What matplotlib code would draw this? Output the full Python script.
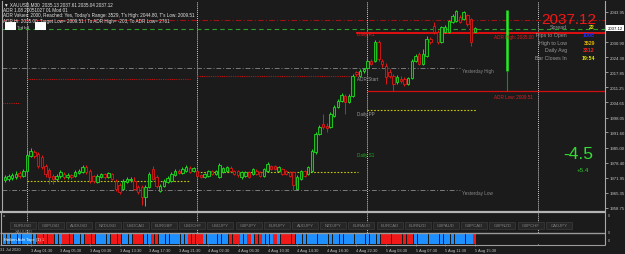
import matplotlib
matplotlib.use("Agg")
import matplotlib.pyplot as plt
from matplotlib.patches import Rectangle

plt.rcParams['font.family'] = ['Liberation Sans', 'DejaVu Sans']

# XAUUSD M30: bar 0 = late 31 Jul 2020, bar 127 = 5 Aug 15:30 (current)
opens = [1970.9, 1971.3, 1971.8, 1972.2, 1974.0, 1972.6, 1974.8, 1981.3,
         1983.1, 1982.2, 1980.9, 1977.0, 1975.3, 1972.6, 1971.3, 1972.6,
         1973.5, 1972.2, 1973.1, 1972.6, 1974.0, 1974.4, 1976.6, 1974.8,
         1972.6, 1970.0, 1972.2, 1973.5, 1972.2, 1973.5, 1970.5, 1968.7,
         1967.0, 1970.0, 1970.9, 1970.5, 1967.9, 1967.9, 1963.5, 1967.9,
         1975.7, 1972.2, 1966.1, 1968.3, 1970.0, 1970.5, 1973.1, 1974.8,
         1974.0, 1974.8, 1976.1, 1974.8, 1974.8, 1973.1, 1972.2, 1972.6,
         1974.8, 1973.5, 1972.2, 1974.4, 1974.8, 1976.1, 1974.8, 1974.8,
         1972.2, 1972.6, 1974.4, 1973.5, 1974.8, 1974.4, 1972.6, 1974.8,
         1977.0, 1977.0, 1974.8, 1975.7, 1974.8, 1974.4, 1974.4, 1967.0,
         1971.3, 1974.8, 1973.5, 1974.8, 1983.1, 1990.9, 1995.2, 1994.4,
         1993.9, 1998.7, 2002.6, 2005.2, 2007.4, 2004.8, 2007.4, 2017.9,
         2016.1, 2018.3, 2019.6, 2022.6, 2022.6, 2030.9, 2022.6, 2020.5,
         2017.9, 2016.1, 2013.5, 2014.8, 2014.8, 2012.6, 2015.2, 2022.6,
         2025.7, 2021.3, 2024.8, 2032.2, 2037.9, 2035.3, 2030.9, 2035.3,
         2035.3, 2039.6, 2040.0, 2041.8, 2040.9, 2042.6, 2040.9, 2035.13]
highs = [1973.1, 1973.5, 1974.0, 1974.8, 1974.8, 1975.7, 1984.4, 1984.8,
         1983.9, 1983.1, 1981.8, 1977.8, 1976.1, 1973.5, 1973.5, 1975.3,
         1974.4, 1974.0, 1973.5, 1975.3, 1975.7, 1977.4, 1977.4, 1975.7,
         1973.1, 1973.5, 1974.0, 1974.0, 1974.4, 1974.0, 1971.3, 1969.6,
         1971.3, 1972.2, 1972.2, 1972.2, 1968.7, 1968.7, 1968.7, 1974.4,
         1977.0, 1973.1, 1969.1, 1971.3, 1972.6, 1974.4, 1975.7, 1975.7,
         1976.6, 1977.4, 1977.0, 1976.6, 1975.3, 1973.5, 1974.0, 1975.3,
         1975.3, 1975.3, 1978.3, 1976.6, 1977.0, 1977.0, 1975.3, 1975.3,
         1974.8, 1974.8, 1974.8, 1976.1, 1975.7, 1974.8, 1976.1, 1978.7,
         1977.4, 1977.4, 1977.0, 1976.1, 1975.3, 1974.8, 1974.8, 1973.1,
         1975.3, 1975.3, 1977.0, 1984.4, 1991.8, 1994.8, 1999.6, 1995.7,
         2000.5, 2003.5, 2006.1, 2008.7, 2008.3, 2008.3, 2017.0, 2018.3,
         2019.2, 2019.6, 2023.9, 2023.5, 2031.8, 2031.8, 2023.5, 2021.8,
         2019.2, 2017.0, 2016.6, 2016.1, 2015.7, 2015.7, 2023.5, 2025.7,
         2026.6, 2027.9, 2033.5, 2033.1, 2039.6, 2036.1, 2037.9, 2038.3,
         2040.5, 2043.1, 2044.8, 2042.6, 2044.4, 2043.1, 2041.3, 2037.61]
lows = [1970.0, 1970.5, 1970.9, 1971.3, 1971.8, 1972.2, 1974.4, 1980.9,
        1980.5, 1976.1, 1975.7, 1972.2, 1969.1, 1969.1, 1970.5, 1971.8,
        1971.3, 1971.3, 1971.3, 1972.2, 1973.5, 1974.0, 1973.5, 1969.6,
        1969.6, 1969.6, 1971.8, 1971.3, 1971.8, 1970.9, 1966.1, 1964.8,
        1966.6, 1969.6, 1970.0, 1966.6, 1964.8, 1960.0, 1959.6, 1967.4,
        1970.9, 1967.4, 1965.7, 1967.9, 1969.6, 1970.0, 1972.6, 1973.5,
        1973.5, 1974.4, 1974.0, 1974.4, 1972.2, 1971.8, 1971.8, 1972.2,
        1973.1, 1973.1, 1971.8, 1974.0, 1974.4, 1974.4, 1973.1, 1972.2,
        1971.3, 1972.2, 1971.8, 1973.1, 1973.1, 1972.2, 1972.2, 1974.4,
        1975.3, 1975.3, 1974.4, 1973.1, 1973.1, 1972.2, 1966.6, 1966.6,
        1970.9, 1972.2, 1973.1, 1974.4, 1982.2, 1990.5, 1993.1, 1991.8,
        1993.5, 1998.3, 2002.2, 2004.8, 1999.6, 2004.4, 2007.0, 2016.1,
        2015.7, 2017.4, 2019.2, 2020.9, 2022.2, 2022.6, 2020.0, 2012.6,
        2015.2, 2009.51, 2012.6, 2013.1, 2011.8, 2012.2, 2014.8, 2022.2,
        2020.9, 2020.9, 2024.4, 2030.0, 2034.4, 2030.0, 2030.5, 2034.8,
        2034.8, 2039.2, 2039.6, 2039.2, 2040.5, 2037.9, 2029.2, 2035.04]
closes = [1972.2, 1972.6, 1973.1, 1973.5, 1972.6, 1974.8, 1981.8, 1983.5,
          1981.3, 1977.0, 1976.6, 1973.5, 1972.2, 1971.3, 1972.6, 1974.4,
          1972.2, 1973.1, 1972.2, 1974.4, 1974.8, 1976.6, 1974.4, 1970.5,
          1970.5, 1972.6, 1973.5, 1972.2, 1974.0, 1971.3, 1967.0, 1965.7,
          1970.5, 1971.3, 1971.3, 1967.0, 1965.7, 1963.5, 1967.9, 1973.5,
          1971.3, 1968.3, 1968.3, 1970.5, 1971.8, 1973.5, 1974.8, 1974.0,
          1975.7, 1976.6, 1974.4, 1976.1, 1972.6, 1972.2, 1973.5, 1974.8,
          1973.5, 1974.8, 1977.4, 1976.1, 1976.6, 1974.8, 1973.5, 1973.1,
          1974.4, 1974.4, 1972.2, 1975.7, 1973.5, 1972.6, 1975.7, 1977.8,
          1975.7, 1975.7, 1976.6, 1973.5, 1973.5, 1972.6, 1968.7, 1972.2,
          1974.8, 1972.6, 1976.6, 1983.5, 1990.9, 1993.9, 1993.9, 1993.5,
          1999.6, 2002.6, 2005.2, 2007.9, 2004.8, 2007.4, 2016.1, 2017.0,
          2018.3, 2019.2, 2022.6, 2021.3, 2030.9, 2023.5, 2021.3, 2015.7,
          2016.1, 2012.6, 2015.7, 2013.9, 2012.6, 2015.2, 2022.6, 2024.8,
          2021.3, 2025.7, 2032.2, 2030.9, 2035.3, 2030.9, 2037.4, 2037.4,
          2040.0, 2042.2, 2044.4, 2039.6, 2043.9, 2038.7, 2030.9, 2037.12]

# Heiken Ashi tape, one colour per bar (B blue, R red)
ha_tape = ("BBBBBBBBB" "RRRRR" "BB" "RRR" "BBB" "RRR" "BBBB" "RRR" "BBB" "RRR"
           "BB" "RR" "BBBBBBBB" "RRRR" "BBBBBBB" "RRR" "BB" "R" "B" "RR" "BBB"
           "R" "B" "RRRR" "BBBBBB" "BBBBBBBBBBBBBBBBB" "RRRRRRRRR"
           "BBBBBBBBBBBBBBBB" "R")

day_starts = [6, 52, 98, 144]
time_ticks = [7, 15, 23, 31, 39, 47, 55, 63, 71, 79, 87, 95, 103, 111, 119, 127]
time_labels = ["3 Aug 01:30", "3 Aug 05:30", "3 Aug 09:30", "3 Aug 13:30",
               "3 Aug 17:30", "3 Aug 21:30", "4 Aug 02:30", "4 Aug 06:30",
               "4 Aug 10:30", "4 Aug 14:30", "4 Aug 18:30", "4 Aug 22:30",
               "5 Aug 03:30", "5 Aug 07:30", "5 Aug 11:30", "5 Aug 15:30"]
price_ticks = [2043.95, 2030.90, 2024.30, 2017.85, 2011.25, 2004.65, 1998.05,
               1991.60, 1985.00, 1978.40, 1971.95, 1965.35, 1958.75]
last_price = 2037.12

# indicator levels
pivot_pp = [1970.5, 1974.4, 2001.3]        # 3 Aug, 4 Aug, 5 Aug
pivot_spans = [(6, 50), (52, 95.5), (98, 127.6)]
adr_start = [2004.4, 2014.8, 2016.1]       # 31 Jul, 3 Aug, 4 Aug
adr_start_spans = [(-0.76, 4.2), (6, 50), (52, 95.5)]
yest_high, yest_low = 2019.6, 1966.6
adr_high, adr_low = 2035.00, 2009.51
today_high, range_mid = 2044.80, 2018.3
upper_dashdot, green_dash = 2040.5, 2036.6
adr_bar_x = 135.7

symbols = ["EURUSD", "GBPUSD", "AUDUSD", "NZDUSD", "USDCAD", "EURGBP", "USDCHF",
           "USDJPY", "GBPJPY", "EURJPY", "AUDJPY", "NZDJPY", "EURAUD", "EURCAD",
           "EURNZD", "GBPAUD", "GBPCAD", "GBPNZD", "GBPCHF", "CADJPY"]

BG = "#1b1b1b"
W, H = 625, 255


def box(x0, y0, x1, y1):
    return [x0 / W, 1 - y1 / H, (x1 - x0) / W, (y1 - y0) / H]


fig = plt.figure(figsize=(W / 100, H / 100), dpi=100, facecolor=BG)
ax = fig.add_axes(box(2, 2, 605, 212))
ax.set_facecolor(BG)
xlim = (-0.76, 162.2)
ax.set_xlim(*xlim)
ax.set_ylim(1957.43, 2048.73)

# --- level lines ---
ax.axhline(upper_dashdot, color="#a01010", lw=0.8, dashes=(5, 2, 1, 2))
ax.axhline(green_dash, color="#2aa02a", lw=0.8, dashes=(4, 3))
ax.hlines([yest_high, yest_low], xlim[0], 123, color="#7a7a7a", lw=0.7, linestyles=(0, (5, 2, 1, 2)))
for lvl, (a, b) in zip(adr_start, adr_start_spans):
    ax.hlines(lvl, a, b, color="#c01010", lw=0.8, linestyles=(0, (1, 1)))
for lvl, (a, b) in zip(pivot_pp, pivot_spans):
    ax.hlines(lvl, a, b, color="#c8c800", lw=0.8, linestyles=(0, (1.5, 1.5)))
ax.hlines(adr_high, 95, xlim[1], color="#e01010", lw=1.4)
ax.hlines(adr_low, 98, xlim[1], color="#d01010", lw=0.9)
ax.vlines(adr_bar_x, range_mid, today_high, color="#22ee22", lw=1.8)
ax.vlines(adr_bar_x, adr_low, range_mid, color="#1a8a1a", lw=0.8)

# --- period separators (run down through the lower panels) ---
for d in day_starts:
    ax.axvline(d, ymin=-0.157, ymax=1, color="#cfcfcf", lw=0.7, dashes=(1, 1), clip_on=False, zorder=1)

# --- candles ---
idx = list(range(len(closes)))
ups = [c >= o for o, c in zip(opens, closes)]
edges = ["#22dd22" if u else "#e01818" for u in ups]
faces = ["#0c3c0c" if u else "#3c0c0c" for u in ups]
ax.vlines(idx, lows, highs, colors=edges, lw=0.7, zorder=3)
bottoms = [min(o, c) for o, c in zip(opens, closes)]
heights = [max(abs(c - o), 0.2) for o, c in zip(opens, closes)]
ax.bar(idx, heights, bottom=bottoms, width=0.66, color=faces, edgecolor=edges, linewidth=0.6, zorder=4)

# --- labels on the chart ---
small = dict(fontsize=3.3, va="center", ha="left")
ax.text(95.2, adr_high - 0.4, "Daily R1", color="#e02020", **small)
ax.text(95.2, 2015.2, "ADR Start", color="#9a9a9a", **small)
ax.text(95.2, 2000.0, "Daily PP", color="#9a9a9a", **small)
ax.text(95.2, 1981.8, "Daily S1", color="#22aa22", **small)
ax.text(123.5, yest_high - 1.3, "Yesterday High", color="#8a8a8a", **small)
ax.text(123.5, yest_low - 1.3, "Yesterday Low", color="#8a8a8a", **small)
ax.text(132.2, adr_high - 1.6, "ADR High: 2035.00", color="#e02020", **small)
ax.text(132.2, adr_low - 2.1, "ADR Low: 2009.51", color="#e02020", **small)

# --- price scale ---
ax.yaxis.tick_right()
ax.set_yticks(price_ticks)
ax.set_yticklabels([f"{p:.2f}" for p in price_ticks])
ax.tick_params(axis="y", labelsize=3.1, colors="#c8c8c8", length=2, width=0.5, pad=1.5)
ax.set_xticks([])
for s in ["top", "bottom"]:
    ax.spines[s].set_visible(False)
for s in ["left", "right"]:
    ax.spines[s].set_color("#a8a8a8")
    ax.spines[s].set_linewidth(0.8)
ax.text(1.004, last_price, f"{last_price:.2f}", transform=ax.get_yaxis_transform(),
        fontsize=3.1, color="black", va="center", ha="left",
        bbox=dict(boxstyle="square,pad=0.25", fc="white", ec="none"))

# --- Heiken Ashi tape panel ---
hx = fig.add_axes(box(2, 235, 605, 245))
hx.set_facecolor(BG)
hx.set_xlim(*xlim)
hx.set_ylim(0, 1)
hx.bar(idx, [1] * len(idx), width=0.85, color=["#1e8fff" if c == "B" else "#f01818" for c in ha_tape])
hx.set_yticks([])
hx.set_xticks(time_ticks)
hx.set_xticklabels(time_labels)
hx.tick_params(axis="x", labelsize=2.9, colors="#c0c0c0", length=1.5, width=0.4, pad=1.2)
for lab in hx.get_xticklabels():
    lab.set_ha("left")
for s in hx.spines.values():
    s.set_visible(False)
hx.text(0.003, 0.5, "Heiken Ashi Tape (1) 1", transform=hx.transAxes, fontsize=2.9,
        color="white", va="center", ha="left")

# --- overlay for panel chrome and info texts (pixel coordinates) ---
ov = fig.add_axes([0, 0, 1, 1])
ov.set_xlim(0, W)
ov.set_ylim(H, 0)
ov.axis("off")
ov.set_zorder(10)
ov.patch.set_alpha(0)

ov.hlines(212.8, 0, 605, color="#b4b4b4", lw=1.6)
ov.hlines(233.8, 0, 605, color="#9a9a9a", lw=1.0)
ov.hlines(245.5, 0, 605, color="#9a9a9a", lw=0.8)
ov.vlines(605, 212, 246, color="#a8a8a8", lw=0.8)
ov.vlines(1, 212, 246, color="#a8a8a8", lw=0.8)
ov.text(0, 250.5, "31 Jul 2020", fontsize=2.9, color="#c0c0c0", va="center", ha="left")
ov.text(3, 216.5, "a", fontsize=2.8, color="#b0b0b0", va="center")
for yy in (216, 233, 241):
    ov.text(608, yy, "0", fontsize=2.6, color="#c0c0c0", va="center")

for k, sym in enumerate(symbols):
    x0 = 10 + k * 28.2
    ov.add_patch(Rectangle((x0, 222.5), 26, 7, fc="#262626", ec="#3c3c3c", lw=0.5))
    ov.text(x0 + 13, 226, sym, fontsize=3.1, color="#808080", ha="center", va="center")
ov.text(23.5, 232, "XAUUSD", fontsize=3.1, color="#808080", ha="center", va="center")

# header lines
hdr = dict(fontsize=3.3, color="#e6e6e6", ha="left", va="center")
ov.text(4, 5, "\u25bc XAUUSD,M30  2035.13 2037.61 2035.04 2037.12", **hdr)
ov.text(3, 11, "ADR 1.08 20051027 01 Mod 01", **hdr)
ov.text(3, 16, "ADR Values: 2000, Reached: Yes, Today's Range: 3529, T's High: 2044.80, T's Low: 2009.51", **hdr)
ov.text(3, 21, "ADR Hi: 2035.00, Target Low= 2009.51 / To ADR High= -203, To ADR Low= 2761", **hdr)
ov.add_patch(Rectangle((5, 23), 11, 8, fc="white", ec="none"))
ov.add_patch(Rectangle((35, 23), 11, 8, fc="white", ec="none"))
ov.text(17, 28, "Trd bd", fontsize=3.0, color="#d0d0d0", va="center")

# info block on the right
ov.text(569, 19.5, f"{last_price:.2f}", fontsize=11, color="#f01818", ha="center", va="center")
info_labels = ["Spread", "Pips to Open", "High to Low", "Daily Avg", "Bar Closes In"]
info_values = ["22", "1008", "3529", "3312", "19:54"]
info_colors = ["#e6e600", "#2030ff", "#e6b800", "#ff2020", "#e6e600"]
for r, (lab, val, col) in enumerate(zip(info_labels, info_values, info_colors)):
    yy = 27.5 + r * 7.8
    ov.text(567, yy, lab, fontsize=3.8, color="#9a9a9a", ha="right", va="center")
    ov.text(595, yy, val, fontsize=3.8, color=col, ha="right", va="center", fontweight="bold")
ov.text(578, 155, "-4.5", fontsize=12.5, color="#33dd33", ha="center", va="center")
ov.text(583, 171, "+5.4", fontsize=4.4, color="#33cc33", ha="center", va="center")

fig.savefig("out.png", dpi=100, facecolor=BG)
